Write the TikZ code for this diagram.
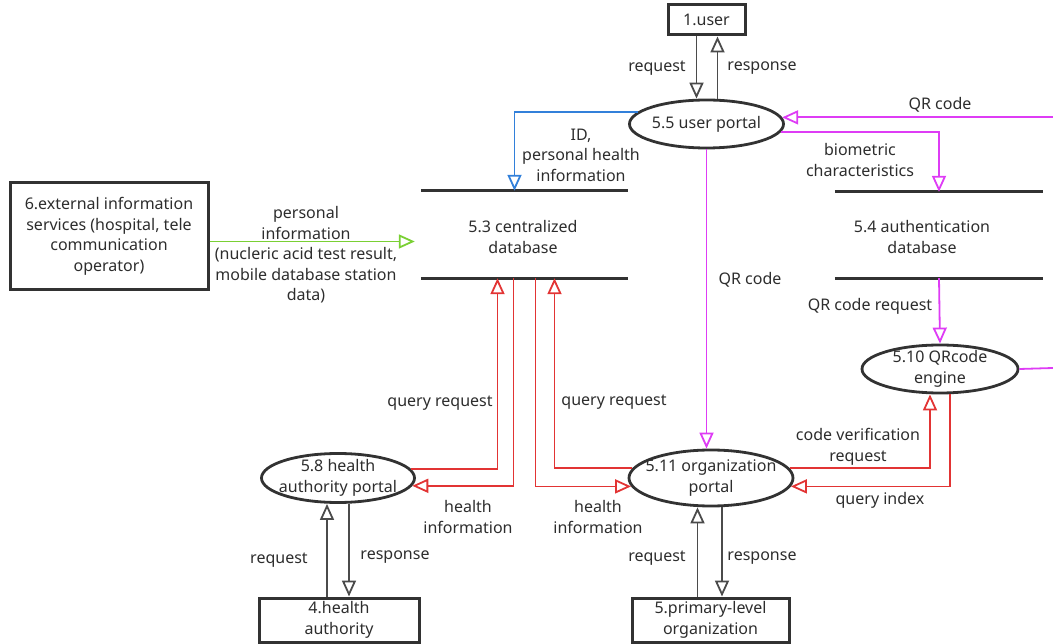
\documentclass[tikz,border=0pt]{standalone}
\usepackage{fontspec}
\setmainfont{Noto Sans}
\usetikzlibrary{arrows.meta,shapes.geometric}
\definecolor{txtgray}{RGB}{45,45,45}
\definecolor{boxgray}{RGB}{50,50,50}
\definecolor{linegray}{RGB}{75,75,75}
\definecolor{flowpink}{RGB}{222,60,245}
\definecolor{flowred}{RGB}{226,52,52}
\definecolor{flowblue}{RGB}{50,128,218}
\definecolor{flowgreen}{RGB}{122,208,52}
\begin{document}
\begin{tikzpicture}[x=1pt,y=-1pt,
        every node/.style={font=\fontsize{16}{20.5}\selectfont, text=txtgray, align=center},
        entity/.style={draw=boxgray, line width=3pt, inner sep=1pt},
        process/.style={ellipse, draw=boxgray, line width=2.8pt, inner sep=0pt},
        store/.style={inner sep=0pt},
        storeline/.style={draw=boxgray, line width=3pt},
        flow/.style={line width=1.8pt, -{Triangle[open,length=16pt,width=14pt]}},
        plain/.style={line width=1.8pt},
        grayflow/.style={flow, draw=linegray},
        pinkflow/.style={flow, draw=flowpink},
        redflow/.style={flow, draw=flowred},
        blueflow/.style={flow, draw=flowblue},
        greenflow/.style={flow, draw=flowgreen}]
    \useasboundingbox (0,0) rectangle (1053,644);

    % external entities
    \node[
        entity,
        minimum width=77,
        minimum height=30,
        name=user
    ] at (706.5,20) {1.user};
    \node[
        entity,
        minimum width=198,
        minimum height=107,
        name=ext
    ] at (109,236.5) {6.external information\\services (hospital, tele\\communication\\operator)};
    \node[
        entity,
        minimum width=160,
        minimum height=44,
        name=ha
    ] at (339,620) {4.health\\authority};
    \node[
        entity,
        minimum width=157,
        minimum height=44,
        name=po
    ] at (710.5,620) {5.primary-level\\organization};

    % processes
    \node[
        process,
        minimum width=154,
        minimum height=48,
        name=up,
        label={center:5.5 user portal}
    ] at (706.5,124) {};
    \node[
        process,
        minimum width=156,
        minimum height=48,
        name=qe,
        label={center:{5.10 QRcode\\engine}}
    ] at (940,369) {};
    \node[
        process,
        minimum width=164,
        minimum height=56,
        name=op,
        label={center:{5.11 organization\\portal}}
    ] at (711,478) {};
    \node[
        process,
        minimum width=153,
        minimum height=49,
        name=hap,
        label={center:{5.8 health\\authority portal}}
    ] at (338,478) {};

    % data stores
    \node[
        store,
        minimum width=207,
        minimum height=87,
        name=cdb
    ] at (524.5,234.5) {};
    \node[name=cdbtxt] at (523,237) {5.3 centralized\\database};
    \draw[storeline] (cdb.north west) -- (cdb.north east);
    \draw[storeline] (cdb.south west) -- (cdb.south east);

    \node[
        store,
        minimum width=208,
        minimum height=86,
        name=adb
    ] at (939,235) {};
    \node[name=adbtxt] at (922,237) {5.4 authentication\\database};
    \draw[storeline] (adb.north west) -- (adb.north east);
    \draw[storeline] (adb.south west) -- (adb.south east);

    % free ends at the right edge
    \coordinate (qrin) at (1053,117);
    \coordinate (qrout) at (1053,368);

    % user <-> user portal
    \draw[grayflow] ([xshift=-10]user.south) -- ([xshift=-10]user.south |- up.north);
    \draw[grayflow] ([xshift=11]up.north) -- ([xshift=11]up.north |- user.south);
    \node[name=l1] at (657,68) {request};
    \node[name=l2] at (762,68) {response};

    % user portal flows
    \draw[pinkflow] (up.5 -| qrin) -- (up.5);
    \node[name=l3] at (940,105) {QR code};
    \draw[pinkflow] (up.-6) -| (adb.north);
    \node[name=l4] at (860,160) {biometric\\characteristics};
    \draw[blueflow] (up.170) -| ([xshift=-10]cdb.north);
    \node[name=l5] at (581,155) {ID,\\personal health\\information};
    \draw[pinkflow] (up.south) -- (up.south |- op.north);
    \node[name=l6] at (750,280) {QR code};

    % external services -> centralized database
    \draw[greenflow, shorten >=6pt] ([yshift=-5]ext.east) -- ([yshift=-5]ext.east -| cdb.west);
    \node[name=l7] at (306,255) {personal\\information\\(nucleric acid test result,\\mobile database station\\data)};

    % QR code engine
    \draw[pinkflow] (adb.south) -- (qe.north);
    \node[name=l8] at (870,306) {QR code request};
    \draw[draw=flowpink, plain] (qe.east) -- (qrout);
    \draw[redflow] (op.7) -| ([xshift=-10]qe.south);
    \node[name=l9] at (858,447) {code verification\\request};
    \draw[redflow] ([xshift=10]qe.south) |- (op.-6);
    \node[name=l10] at (880,500) {query index};

    % centralized database <-> portals
    \draw[redflow] (hap.7) -| ([xshift=-27]cdb.south);
    \node[name=l11] at (440,403) {query request};
    \draw[redflow] ([xshift=-11]cdb.south) |- (hap.-6);
    \node[name=l12] at (468,517) {health\\information};
    \draw[redflow] ([xshift=11]cdb.south) |- (op.186);
    \node[name=l13] at (598,517) {health\\information};
    \draw[redflow] (op.173) -| ([xshift=30]cdb.south);
    \node[name=l14] at (614,402) {query request};

    % health authority <-> portal
    \draw[grayflow] ([xshift=-12]ha.north) -- ([xshift=-12]ha.north |- hap.south);
    \draw[grayflow] ([xshift=11]hap.south) -- ([xshift=11]hap.south |- ha.north);
    \node[name=l15] at (279,560) {request};
    \node[name=l16] at (395,557) {response};

    % primary-level organization <-> portal
    \draw[grayflow] ([xshift=-13]po.north) -- ([xshift=-13]po.north |- op.south);
    \draw[grayflow] ([xshift=11]op.south) -- ([xshift=11]op.south |- po.north);
    \node[name=l17] at (657,558) {request};
    \node[name=l18] at (762,558) {response};
\end{tikzpicture}
\end{document}
